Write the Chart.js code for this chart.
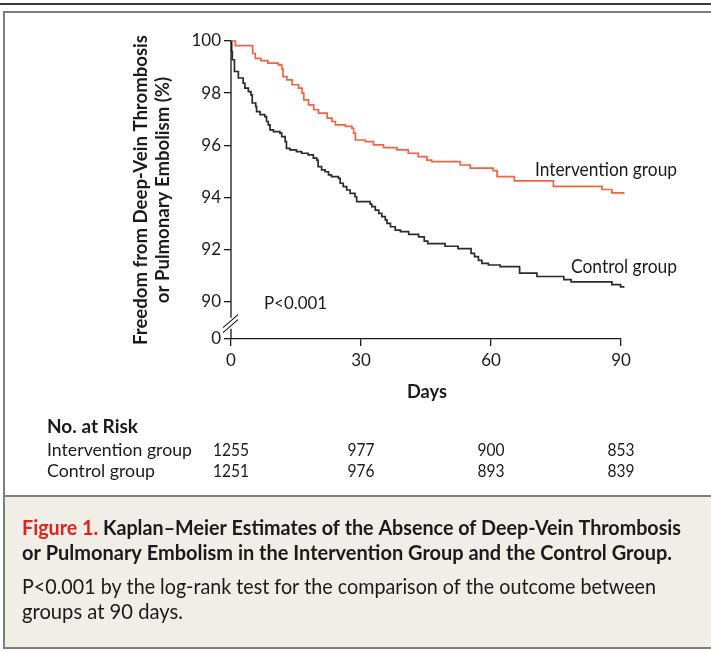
<!DOCTYPE html>
<html><head><meta charset="utf-8">
<script src="https://cdn.jsdelivr.net/npm/chart.js@4.4.1/dist/chart.umd.min.js"></script>
<style>html,body{margin:0;padding:0;background:#fff}canvas{display:block}</style>
</head><body>
<canvas id="c" width="711" height="652"></canvas>
<script>
// ---------- data ----------
const interventionDays = [0, 1.0, 5.0, 5.6, 6.9, 8.5, 10.9, 11.7, 12.0, 12.9, 14.1, 15.6, 16.4, 16.8, 17.9, 19.1, 20.2, 22.2, 23.3, 24.1, 26.4, 27.9, 28.3, 28.7, 31.0, 32.9, 35.2, 38.3, 40.9, 43.2, 45.2, 46.3, 52.9, 55.2, 60.5, 61.4, 65.4, 74.4, 85.6, 87.9, 90.6];
const interventionSurvival = [100, 99.82, 99.52, 99.33, 99.25, 99.15, 99.08, 98.94, 98.63, 98.51, 98.32, 98.19, 98.0, 97.74, 97.55, 97.36, 97.23, 97.04, 96.91, 96.78, 96.72, 96.65, 96.46, 96.2, 96.14, 96.01, 95.91, 95.82, 95.69, 95.56, 95.43, 95.37, 95.24, 95.12, 95.02, 94.79, 94.63, 94.42, 94.3, 94.17, 94.12];
const controlDays = [0, 0.15, 0.3, 0.8, 1.7, 2.8, 3.2, 4.0, 4.6, 4.9, 5.7, 5.9, 6.7, 7.8, 8.2, 8.6, 9.0, 9.8, 11.3, 11.7, 12.5, 12.8, 13.6, 15.1, 16.3, 17.8, 19.0, 19.8, 20.1, 20.9, 21.7, 22.5, 23.2, 24.8, 25.2, 25.9, 26.7, 27.5, 28.6, 29.0, 32.1, 32.5, 33.3, 34.1, 34.8, 35.6, 36.0, 36.8, 37.9, 39.1, 41.0, 43.3, 44.6, 45.4, 49.4, 52.4, 55.4, 56.2, 57.1, 57.9, 59.4, 62.1, 66.6, 70.6, 76.8, 78.5, 87.9, 89.9, 90.6];
const controlSurvival = [100, 99.6, 99.28, 98.83, 98.58, 98.38, 98.19, 98.06, 97.93, 97.62, 97.48, 97.29, 97.17, 97.1, 96.91, 96.78, 96.59, 96.52, 96.46, 96.33, 96.14, 95.88, 95.82, 95.75, 95.69, 95.63, 95.5, 95.43, 95.18, 95.05, 94.98, 94.86, 94.79, 94.73, 94.54, 94.41, 94.28, 94.15, 94.02, 93.83, 93.74, 93.64, 93.51, 93.38, 93.26, 93.13, 93.0, 92.87, 92.74, 92.68, 92.58, 92.48, 92.32, 92.22, 92.12, 92.03, 91.85, 91.72, 91.58, 91.46, 91.4, 91.34, 91.09, 90.96, 90.84, 90.75, 90.65, 90.56, 90.53];
const xTickValues = [0, 30, 60, 90];
const yTickValues = [90, 92, 94, 96, 98, 100];
const yBrokenZero = 88.56;      // axis value where the broken "0" tick sits
const yBreakValue = 89.15;      // axis value where the break marks sit
const riskGroupNames = ['Intervention group', 'Control group'];
const riskIntervention = [1255, 977, 900, 853];
const riskControl = [1251, 976, 893, 839];
const seriesNames = ['Intervention group', 'Control group'];
const yTitleLines = ['Freedom from Deep-Vein Thrombosis', 'or Pulmonary Embolism (%)'];
const xTitle = 'Days';
const pLabel = 'P<0.001';
const captionFigure = 'Figure 1.';
const captionTitle1 = ' Kaplan\u2013Meier Estimates of the Absence of Deep-Vein Thrombosis';
const captionTitle2 = 'or Pulmonary Embolism in the Intervention Group and the Control Group.';
const captionBody1 = 'P<0.001 by the log-rank test for the comparison of the outcome between';
const captionBody2 = 'groups at 90 days.';

const FONT = 'Lato';
const INK = '#1c1a1b';
const RED_LINE = '#f0643f';

function toPoints(xs, ys) { return xs.map((x, i) => ({ x: x, y: ys[i] })); }

function txt(ctx, s, x, y, o) {
  ctx.save();
  ctx.font = (o.weight || 'normal') + ' ' + o.size + 'px ' + FONT;
  ctx.fillStyle = o.color || INK;
  ctx.textBaseline = 'middle';
  ctx.textAlign = o.align || 'left';
  const w = ctx.measureText(s).width;
  const sx = o.width ? o.width / w : 1;
  ctx.translate(x, y);
  if (o.rot) ctx.rotate(o.rot);
  ctx.scale(sx, 1);
  ctx.fillText(s, 0, 0);
  ctx.restore();
  return sx;
}

const decor = {
  id: 'decor',
  beforeDraw(chart) {
    const ctx = chart.ctx;
    ctx.save();
    ctx.fillStyle = '#ffffff';
    ctx.fillRect(0, 0, 711, 652);
    ctx.fillStyle = '#3a3a3a';
    ctx.fillRect(0, 3, 711, 2);
    ctx.fillStyle = '#f1ede7';
    ctx.fillRect(4, 496, 720, 152);
    ctx.strokeStyle = '#7d7d7d';
    ctx.lineWidth = 2;
    ctx.strokeRect(4, 12, 720, 484);
    ctx.strokeRect(4, 496, 720, 152);
    ctx.restore();
  },
  afterDraw(chart) {
    const ctx = chart.ctx;
    const xs = chart.scales.x, ys = chart.scales.y;
    const ax = xs.getPixelForValue(0);
    const yb = ys.getPixelForValue(yBreakValue);
    ctx.save();
    ctx.strokeStyle = INK;
    ctx.lineWidth = 1.3;
    ctx.beginPath();
    ctx.moveTo(ax, ys.getPixelForValue(100));
    ctx.lineTo(ax, yb - 6);
    ctx.moveTo(ax, yb + 5);
    ctx.lineTo(ax, ys.getPixelForValue(yBrokenZero));
    ctx.stroke();
    ctx.lineWidth = 1.1;
    ctx.beginPath();
    ctx.moveTo(ax - 8, yb + 4); ctx.lineTo(ax + 7, yb - 9);
    ctx.moveTo(ax - 8, yb + 9); ctx.lineTo(ax + 7, yb - 4);
    ctx.stroke();
    ctx.restore();

    // y title
    const sx = txt(ctx, yTitleLines[0], 141, 190, { size: 19, weight: 'bold', align: 'center', rot: -Math.PI / 2, width: 310 });
    ctx.save();
    ctx.font = 'bold 19px ' + FONT;
    const w2 = ctx.measureText(yTitleLines[1]).width * sx;
    ctx.restore();
    txt(ctx, yTitleLines[1], 163, 190, { size: 19, weight: 'bold', align: 'center', rot: -Math.PI / 2, width: w2 });

    // series labels
    txt(ctx, seriesNames[0], 535, 170, { size: 18.5, width: 142 });
    txt(ctx, seriesNames[1], 571, 267, { size: 18.5, width: 106 });
    txt(ctx, pLabel, 264, 303, { size: 17.5, width: 63 });
    txt(ctx, xTitle, 427, 392, { size: 19, weight: 'bold', align: 'center', width: 40 });

    // risk table
    txt(ctx, 'No. at Risk', 47, 427, { size: 19, weight: 'bold', width: 91 });
    txt(ctx, riskGroupNames[0], 47, 450, { size: 18, width: 145 });
    txt(ctx, riskGroupNames[1], 47, 471, { size: 18, width: 108 });
    xTickValues.forEach((v, i) => {
      const px = xs.getPixelForValue(v);
      const a = String(riskIntervention[i]), b = String(riskControl[i]);
      txt(ctx, a, px, 450, { size: 17.5, align: 'center', width: a.length * 9 });
      txt(ctx, b, px, 471, { size: 17.5, align: 'center', width: b.length * 9 });
    });

    // caption
    ctx.save();
    ctx.font = 'bold 21px ' + FONT;
    const wf = ctx.measureText(captionFigure).width;
    const wt = ctx.measureText(captionTitle1).width;
    const s1 = 659 / (wf + wt);
    ctx.restore();
    txt(ctx, captionFigure, 22, 528, { size: 21, weight: 'bold', color: '#e2231a', width: wf * s1 });
    txt(ctx, captionTitle1, 22 + wf * s1, 528, { size: 21, weight: 'bold', width: wt * s1 });
    txt(ctx, captionTitle2, 22, 553, { size: 21, weight: 'bold', width: 650 });
    txt(ctx, captionBody1, 22, 587, { size: 20.5, width: 634 });
    txt(ctx, captionBody2, 22, 612, { size: 20.5, width: 161 });
  }
};

new Chart(document.getElementById('c'), {
  type: 'line',
  data: {
    datasets: [
      { label: seriesNames[0], data: toPoints(interventionDays, interventionSurvival), borderColor: RED_LINE, borderWidth: 1.7, stepped: 'before', pointRadius: 0, fill: false, clip: false },
      { label: seriesNames[1], data: toPoints(controlDays, controlSurvival), borderColor: '#2b2b2b', borderWidth: 1.7, stepped: 'before', pointRadius: 0, fill: false, clip: false }
    ]
  },
  options: {
    responsive: false,
    devicePixelRatio: 1,
    animation: false,
    layout: { padding: { left: 0, right: 90, top: 41, bottom: 0 } },
    plugins: { legend: { display: false }, tooltip: { enabled: false } },
    scales: {
      x: {
        type: 'linear', min: 0, max: 90,
        afterFit(s) { s.height = 313; },
        afterBuildTicks(s) { s.ticks = xTickValues.map(v => ({ value: v })); },
        grid: { drawOnChartArea: false, drawTicks: true, tickLength: 7, color: INK, lineWidth: 1.3 },
        border: { display: true, color: INK, width: 1.3 },
        ticks: { autoSkip: false, maxRotation: 0, padding: 4, color: INK, font: { family: FONT, size: 17 } }
      },
      y: {
        type: 'linear', min: yBrokenZero, max: 100,
        afterFit(s) { s.width = 231; },
        afterBuildTicks(s) { s.ticks = [yBrokenZero].concat(yTickValues).map(v => ({ value: v })); },
        grid: { drawOnChartArea: false, drawTicks: true, tickLength: 7, color: INK, lineWidth: 1.3 },
        border: { display: false },
        ticks: { autoSkip: false, padding: 3, color: INK, font: { family: FONT, size: 17 },
          callback: v => (v < 90 ? '0' : String(v)) }
      }
    }
  },
  plugins: [decor]
});
</script>
</body></html>
